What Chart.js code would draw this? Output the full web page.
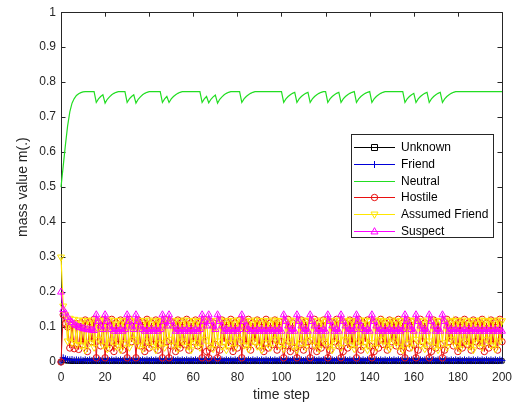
<!DOCTYPE html>
<html>
<head>
<meta charset="utf-8">
<script src="https://cdn.jsdelivr.net/npm/chart.js@4/dist/chart.umd.min.js"></script>
<style>
  html, body { margin: 0; padding: 0; background: #ffffff; }
  #wrap { width: 520px; height: 407px; }
</style>
</head>
<body>
<div id="wrap"><canvas id="c" width="520" height="407"></canvas></div>
<script>
// ---------------- data ----------------
const seriesNames = ['Unknown', 'Friend', 'Neutral', 'Hostile', 'Assumed Friend', 'Suspect'];
const xTicks = [0, 20, 40, 60, 80, 100, 120, 140, 160, 180, 200];
const yTicks = [0, 0.1, 0.2, 0.3, 0.4, 0.5, 0.6, 0.7, 0.8, 0.9, 1];

const unknown = [
  0,0.006,0.004,0.003,0.003,0.002,0.002,0.002,0.002,0.002,
  0.002,0.003,0.002,0.003,0.002,0.003,0.002,0.003,0.002,0.003,
  0.002,0.003,0.002,0.003,0.002,0.003,0.002,0.003,0.002,0.003,
  0.002,0.003,0.002,0.003,0.002,0.003,0.002,0.003,0.002,0.003,
  0.002,0.003,0.002,0.003,0.002,0.003,0.002,0.003,0.002,0.003,
  0.002,0.003,0.002,0.003,0.002,0.003,0.002,0.003,0.002,0.003,
  0.002,0.003,0.002,0.003,0.002,0.003,0.002,0.003,0.002,0.003,
  0.002,0.003,0.002,0.003,0.002,0.003,0.002,0.003,0.002,0.003,
  0.002,0.003,0.002,0.003,0.002,0.003,0.002,0.003,0.002,0.003,
  0.002,0.003,0.002,0.003,0.002,0.003,0.002,0.003,0.002,0.003,
  0.002,0.003,0.002,0.003,0.002,0.003,0.002,0.003,0.002,0.003,
  0.002,0.003,0.002,0.003,0.002,0.003,0.002,0.003,0.002,0.003,
  0.002,0.003,0.002,0.003,0.002,0.003,0.002,0.003,0.002,0.003,
  0.002,0.003,0.002,0.003,0.002,0.003,0.002,0.003,0.002,0.003,
  0.002,0.003,0.002,0.003,0.002,0.003,0.002,0.003,0.002,0.003,
  0.002,0.003,0.002,0.003,0.002,0.003,0.002,0.003,0.002,0.003,
  0.002,0.003,0.002,0.003,0.002,0.003,0.002,0.003,0.002,0.003,
  0.002,0.003,0.002,0.003,0.002,0.003,0.002,0.003,0.002,0.003,
  0.002,0.003,0.002,0.003,0.002,0.003,0.002,0.003,0.002,0.003,
  0.002,0.003,0.002,0.003,0.002,0.003,0.002,0.003,0.002,0.003,
  0.003
];

const friend = [
  0,0.012,0.009,0.007,0.006,0.007,0.005,0.006,0.005,0.006,
  0.004,0.006,0.004,0.006,0.004,0.006,0.004,0.006,0.004,0.006,
  0.004,0.006,0.004,0.006,0.004,0.006,0.004,0.006,0.004,0.006,
  0.004,0.006,0.004,0.006,0.004,0.006,0.004,0.006,0.004,0.006,
  0.004,0.006,0.004,0.006,0.004,0.006,0.004,0.006,0.004,0.006,
  0.004,0.006,0.004,0.006,0.004,0.006,0.004,0.006,0.004,0.006,
  0.004,0.006,0.004,0.006,0.004,0.006,0.004,0.006,0.004,0.006,
  0.004,0.006,0.004,0.006,0.004,0.006,0.004,0.006,0.004,0.006,
  0.004,0.006,0.004,0.006,0.004,0.006,0.004,0.006,0.004,0.006,
  0.004,0.006,0.004,0.006,0.004,0.006,0.004,0.006,0.004,0.006,
  0.004,0.006,0.004,0.006,0.004,0.006,0.004,0.006,0.004,0.006,
  0.004,0.006,0.004,0.006,0.004,0.006,0.004,0.006,0.004,0.006,
  0.004,0.006,0.004,0.006,0.004,0.006,0.004,0.006,0.004,0.006,
  0.004,0.006,0.004,0.006,0.004,0.006,0.004,0.006,0.004,0.006,
  0.004,0.006,0.004,0.006,0.004,0.006,0.004,0.006,0.004,0.006,
  0.004,0.006,0.004,0.006,0.004,0.006,0.004,0.006,0.004,0.006,
  0.004,0.006,0.004,0.006,0.004,0.006,0.004,0.006,0.004,0.006,
  0.004,0.006,0.004,0.006,0.004,0.006,0.004,0.006,0.004,0.006,
  0.004,0.006,0.004,0.006,0.004,0.006,0.004,0.006,0.004,0.006,
  0.004,0.006,0.004,0.006,0.004,0.006,0.004,0.006,0.004,0.006,
  0.004
];

const neutral = [
  0.5,0.56,0.62,0.675,0.715,0.74,0.753,0.762,0.767,0.77,
  0.772,0.773,0.773,0.773,0.773,0.773,0.742,0.752,0.759,0.764,
  0.74,0.751,0.758,0.764,0.768,0.771,0.773,0.773,0.773,0.773,
  0.742,0.752,0.759,0.764,0.74,0.751,0.758,0.764,0.768,0.771,
  0.773,0.773,0.773,0.773,0.773,0.773,0.742,0.752,0.759,0.742,
  0.752,0.759,0.764,0.768,0.771,0.773,0.773,0.773,0.773,0.773,
  0.773,0.773,0.773,0.773,0.742,0.752,0.759,0.741,0.751,0.758,
  0.763,0.74,0.751,0.758,0.764,0.768,0.771,0.773,0.773,0.773,
  0.773,0.773,0.742,0.752,0.759,0.764,0.768,0.771,0.773,0.773,
  0.773,0.773,0.773,0.773,0.773,0.773,0.773,0.773,0.773,0.773,
  0.773,0.742,0.752,0.759,0.764,0.768,0.771,0.742,0.752,0.759,
  0.764,0.768,0.771,0.742,0.752,0.759,0.764,0.768,0.771,0.773,
  0.773,0.742,0.752,0.759,0.764,0.768,0.771,0.742,0.752,0.759,
  0.764,0.768,0.771,0.773,0.742,0.752,0.759,0.764,0.768,0.771,
  0.773,0.742,0.752,0.759,0.764,0.768,0.771,0.773,0.773,0.773,
  0.773,0.773,0.773,0.773,0.773,0.773,0.742,0.752,0.759,0.764,
  0.768,0.742,0.752,0.759,0.764,0.768,0.771,0.742,0.752,0.759,
  0.764,0.768,0.771,0.742,0.752,0.759,0.764,0.768,0.771,0.773,
  0.773,0.773,0.773,0.773,0.773,0.773,0.773,0.773,0.773,0.773,
  0.773,0.773,0.773,0.773,0.773,0.773,0.773,0.773,0.773,0.773,
  0.773
];

const hostile = [
  0,0.135,0.11,0.1,0.04,0.105,0.038,0.11,0.036,0.112,
  0.05,0.12,0.03,0.115,0.058,0.122,0.012,0.112,0.046,0.12,
  0.012,0.115,0.04,0.122,0.03,0.112,0.05,0.12,0.034,0.115,
  0.012,0.122,0.058,0.112,0.012,0.12,0.046,0.115,0.03,0.122,
  0.04,0.112,0.05,0.12,0.034,0.115,0.012,0.122,0.058,0.012,
  0.046,0.112,0.03,0.12,0.04,0.115,0.05,0.122,0.034,0.112,
  0.058,0.12,0.046,0.115,0.012,0.122,0.03,0.012,0.04,0.112,
  0.05,0.012,0.034,0.12,0.058,0.115,0.046,0.122,0.03,0.112,
  0.04,0.12,0.012,0.115,0.05,0.122,0.034,0.112,0.058,0.12,
  0.046,0.115,0.03,0.122,0.04,0.112,0.05,0.12,0.034,0.115,
  0.058,0.012,0.046,0.122,0.03,0.112,0.04,0.012,0.05,0.12,
  0.034,0.115,0.058,0.012,0.046,0.122,0.03,0.112,0.04,0.12,
  0.05,0.012,0.034,0.115,0.058,0.122,0.046,0.012,0.03,0.112,
  0.04,0.12,0.05,0.115,0.012,0.122,0.034,0.112,0.058,0.12,
  0.046,0.012,0.03,0.115,0.04,0.122,0.05,0.112,0.034,0.12,
  0.058,0.115,0.046,0.122,0.03,0.112,0.012,0.12,0.04,0.115,
  0.05,0.012,0.034,0.122,0.058,0.112,0.046,0.012,0.03,0.12,
  0.04,0.115,0.05,0.012,0.034,0.122,0.058,0.112,0.046,0.12,
  0.03,0.115,0.04,0.122,0.05,0.112,0.034,0.12,0.058,0.115,
  0.046,0.122,0.03,0.112,0.04,0.12,0.05,0.115,0.034,0.122,
  0.058
];

const assumedFriend = [
  0.3,0.16,0.135,0.06,0.125,0.055,0.122,0.05,0.12,0.048,
  0.119,0.035,0.118,0.055,0.12,0.042,0.117,0.065,0.119,0.048,
  0.116,0.038,0.12,0.06,0.118,0.045,0.119,0.035,0.117,0.055,
  0.12,0.042,0.118,0.065,0.116,0.048,0.119,0.038,0.118,0.06,
  0.12,0.045,0.117,0.035,0.119,0.055,0.116,0.042,0.12,0.065,
  0.118,0.048,0.119,0.038,0.117,0.06,0.12,0.045,0.118,0.035,
  0.119,0.055,0.116,0.042,0.12,0.065,0.117,0.048,0.119,0.038,
  0.118,0.06,0.12,0.045,0.117,0.035,0.119,0.055,0.118,0.042,
  0.12,0.065,0.116,0.048,0.119,0.038,0.117,0.06,0.12,0.045,
  0.118,0.035,0.119,0.055,0.117,0.042,0.12,0.065,0.118,0.048,
  0.119,0.038,0.116,0.06,0.12,0.045,0.118,0.035,0.117,0.055,
  0.12,0.042,0.118,0.065,0.119,0.048,0.117,0.038,0.12,0.06,
  0.116,0.045,0.119,0.035,0.118,0.055,0.12,0.042,0.117,0.065,
  0.119,0.048,0.118,0.038,0.116,0.06,0.12,0.045,0.119,0.035,
  0.117,0.055,0.12,0.042,0.118,0.065,0.119,0.048,0.116,0.038,
  0.12,0.06,0.117,0.045,0.119,0.035,0.118,0.055,0.12,0.042,
  0.118,0.065,0.119,0.048,0.117,0.038,0.12,0.06,0.116,0.045,
  0.119,0.035,0.118,0.055,0.12,0.042,0.117,0.065,0.119,0.048,
  0.118,0.038,0.12,0.06,0.117,0.045,0.119,0.035,0.118,0.055,
  0.12,0.042,0.118,0.065,0.119,0.048,0.117,0.038,0.12,0.06,
  0.118
];

const suspect = [
  0.2,0.15,0.14,0.128,0.12,0.113,0.108,0.104,0.1,0.098,
  0.096,0.094,0.093,0.092,0.091,0.09,0.135,0.116,0.103,0.093,
  0.135,0.116,0.103,0.093,0.088,0.093,0.088,0.093,0.088,0.093,
  0.135,0.116,0.103,0.093,0.135,0.116,0.103,0.093,0.088,0.093,
  0.088,0.093,0.088,0.093,0.088,0.093,0.135,0.116,0.103,0.135,
  0.116,0.103,0.088,0.093,0.088,0.093,0.088,0.093,0.088,0.093,
  0.088,0.093,0.088,0.093,0.135,0.116,0.103,0.135,0.116,0.103,
  0.093,0.135,0.116,0.103,0.088,0.093,0.088,0.093,0.088,0.093,
  0.088,0.093,0.135,0.116,0.103,0.093,0.088,0.093,0.088,0.093,
  0.088,0.093,0.088,0.093,0.088,0.093,0.088,0.093,0.088,0.093,
  0.088,0.135,0.116,0.103,0.088,0.093,0.088,0.135,0.116,0.103,
  0.088,0.093,0.088,0.135,0.116,0.103,0.088,0.093,0.088,0.093,
  0.088,0.135,0.116,0.103,0.088,0.093,0.088,0.135,0.116,0.103,
  0.088,0.093,0.088,0.093,0.135,0.116,0.103,0.093,0.088,0.093,
  0.088,0.135,0.116,0.103,0.088,0.093,0.088,0.093,0.088,0.093,
  0.088,0.093,0.088,0.093,0.088,0.093,0.135,0.116,0.103,0.093,
  0.088,0.135,0.116,0.103,0.088,0.093,0.088,0.135,0.116,0.103,
  0.088,0.093,0.088,0.135,0.116,0.103,0.088,0.093,0.088,0.093,
  0.088,0.093,0.088,0.093,0.088,0.093,0.088,0.093,0.088,0.093,
  0.088,0.093,0.088,0.093,0.088,0.093,0.088,0.093,0.088,0.093,
  0.088
];

// ---------------- chart ----------------
const timeSteps = neutral.map((_, i) => i);
const FONT = '"Liberation Sans", Arial, Helvetica, sans-serif';
const AXIS_COLOR = '#262626';

const styles = [
  { color: '#000000', point: 'rect',     rot: 0,   radius: 3,   width: 1 },
  { color: '#0000d8', point: 'cross',    rot: 0,   radius: 3.5, width: 1 },
  { color: '#22dd22', point: false,      rot: 0,   radius: 0,   width: 1.2 },
  { color: '#e81010', point: 'circle',   rot: 0,   radius: 3.2, width: 1 },
  { color: '#ffe600', point: 'triangle', rot: 180, radius: 4,   width: 1.2 },
  { color: '#ff00ff', point: 'triangle', rot: 0,   radius: 4,   width: 1.2 }
];
const seriesValues = [unknown, friend, neutral, hostile, assumedFriend, suspect];

const datasets = seriesValues.map((vals, k) => ({
  label: seriesNames[k],
  data: vals.map((v, i) => ({ x: timeSteps[i], y: v })),
  borderColor: styles[k].color,
  backgroundColor: 'rgba(0,0,0,0)',
  borderWidth: styles[k].width,
  pointStyle: styles[k].point || 'circle',
  pointRadius: styles[k].radius,
  pointRotation: styles[k].rot,
  pointBorderColor: styles[k].color,
  pointBackgroundColor: 'rgba(0,0,0,0)',
  pointBorderWidth: 1,
  pointHoverRadius: styles[k].radius,
  tension: 0,
  fill: false,
  clip: 6,
  order: seriesValues.length - k
}));

const framePlugin = {
  id: 'frame',
  beforeDatasetsDraw(chart) {
    const { ctx, chartArea: a, scales } = chart;
    const tl = 4.5;
    ctx.save();
    ctx.strokeStyle = AXIS_COLOR;
    ctx.lineWidth = 1;
    ctx.beginPath();
    ctx.rect(Math.round(a.left) + 0.5, Math.round(a.top) + 0.5,
             Math.round(a.right - a.left), Math.round(a.bottom - a.top));
    ctx.stroke();
    ctx.beginPath();
    xTicks.forEach(v => {
      const px = Math.round(scales.x.getPixelForValue(v)) + 0.5;
      ctx.moveTo(px, a.bottom); ctx.lineTo(px, a.bottom - tl);
      ctx.moveTo(px, a.top); ctx.lineTo(px, a.top + tl);
    });
    yTicks.forEach(v => {
      const py = Math.round(scales.y.getPixelForValue(v)) + 0.5;
      ctx.moveTo(a.left, py); ctx.lineTo(a.left + tl, py);
      ctx.moveTo(a.right, py); ctx.lineTo(a.right - tl, py);
    });
    ctx.stroke();
    ctx.restore();
  }
};

function drawMarker(ctx, st, x, y) {
  const r = st.radius;
  ctx.beginPath();
  if (st.point === 'rect') {
    ctx.rect(x - r, y - r, 2 * r, 2 * r);
  } else if (st.point === 'cross') {
    ctx.moveTo(x - r, y); ctx.lineTo(x + r, y);
    ctx.moveTo(x, y - r); ctx.lineTo(x, y + r);
  } else if (st.point === 'circle') {
    ctx.arc(x, y, r, 0, Math.PI * 2);
  } else if (st.point === 'triangle') {
    const s = st.rot === 180 ? -1 : 1;
    ctx.moveTo(x, y - s * r * 1.1);
    ctx.lineTo(x + r, y + s * r * 0.7);
    ctx.lineTo(x - r, y + s * r * 0.7);
    ctx.closePath();
  }
  ctx.stroke();
}

const legendPlugin = {
  id: 'boxLegend',
  afterDraw(chart) {
    const { ctx } = chart;
    const box = { x: 351, y: 134, w: 142, h: 103 };
    ctx.save();
    ctx.fillStyle = '#ffffff';
    ctx.fillRect(box.x, box.y, box.w, box.h);
    ctx.strokeStyle = AXIS_COLOR;
    ctx.lineWidth = 1;
    ctx.strokeRect(box.x + 0.5, box.y + 0.5, box.w, box.h);
    ctx.font = '12px ' + FONT;
    ctx.textBaseline = 'middle';
    ctx.textAlign = 'left';
    seriesNames.forEach((name, k) => {
      const y = Math.round(box.y + 13 + k * 16.8) + 0.5;
      const st = styles[k];
      ctx.strokeStyle = st.color;
      ctx.lineWidth = 1;
      ctx.beginPath();
      ctx.moveTo(box.x + 3, y); ctx.lineTo(box.x + 44, y);
      ctx.stroke();
      if (st.point) drawMarker(ctx, Object.assign({}, st, { radius: Math.min(st.radius, 3.5) }), box.x + 23.5, y);
      ctx.fillStyle = '#000000';
      ctx.fillText(name, box.x + 50, y + 0.5);
    });
    ctx.restore();
  }
};

new Chart(document.getElementById('c'), {
  type: 'line',
  data: { datasets },
  options: {
    responsive: false,
    animation: false,
    devicePixelRatio: 1,
    events: [],
    layout: { padding: { left: 0, right: 14, top: 11, bottom: 0 } },
    plugins: { legend: { display: false }, tooltip: { enabled: false } },
    scales: {
      x: {
        type: 'linear', min: 0, max: 200,
        afterBuildTicks: s => { s.ticks = xTicks.map(v => ({ value: v })); },
        afterFit: s => { s.height = 45; },
        ticks: { color: AXIS_COLOR, font: { family: FONT, size: 12 }, padding: 8, maxRotation: 0, autoSkip: false },
        grid: { display: false, drawTicks: false },
        border: { display: false },
        title: { display: true, text: 'time step', color: AXIS_COLOR,
                 font: { family: FONT, size: 14 }, padding: { top: 0, bottom: 3 } }
      },
      y: {
        type: 'linear', min: 0, max: 1,
        afterBuildTicks: s => { s.ticks = yTicks.map(v => ({ value: v })); },
        afterFit: s => { s.width = 61; },
        ticks: { color: AXIS_COLOR, font: { family: FONT, size: 12 }, padding: 5, autoSkip: false,
                 callback: v => String(Math.round(v * 10) / 10) },
        grid: { display: false, drawTicks: false },
        border: { display: false },
        title: { display: true, text: 'mass value m(.)', color: AXIS_COLOR,
                 font: { family: FONT, size: 14 }, padding: { top: 15, bottom: 0 } }
      }
    }
  },
  plugins: [framePlugin, legendPlugin]
});
</script>
</body>
</html>
